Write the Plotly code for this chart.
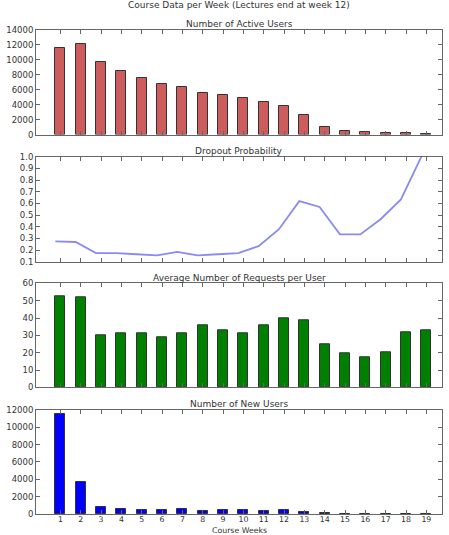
import plotly.graph_objects as go

weeks = list(range(1, 20))
week_labels = [str(w) for w in weeks]

active_users = [11550, 12100, 9650, 8550, 7550, 6800, 6400, 5600, 5250, 4850,
                4350, 3850, 2650, 1050, 450, 350, 230, 180, 90]
dropout_prob = [0.275, 0.27, 0.175, 0.175, 0.165, 0.155, 0.185, 0.155, 0.165, 0.175,
                0.235, 0.38, 0.62, 0.57, 0.335, 0.335, 0.465, 0.635, 1.0]
avg_requests = [52.3, 51.7, 30.0, 31.5, 31.5, 28.7, 31.0, 35.8, 32.7, 31.2,
                35.8, 40.0, 38.8, 24.6, 19.8, 17.3, 20.0, 31.9, 32.7]
new_users = [11580, 3710, 810, 580, 460, 420, 540, 310, 420, 420,
             390, 420, 270, 100, 40, 30, 30, 30, 30]

titles = ["Number of Active Users", "Dropout Probability",
          "Average Number of Requests per User", "Number of New Users"]
main_title = "Course Data per Week (Lectures end at week 12)"
x_title = "Course Weeks"

FONT = "DejaVu Sans"
TXT = "#333333"
FRAME = "#666666"

fig = go.Figure()

fig.add_trace(go.Bar(x=weeks, y=active_users, width=0.5, marker=dict(color="#cd5c5c", line=dict(color="#333", width=1)),
                     xaxis="x", yaxis="y", showlegend=False))
line_x = [w - 0.25 for w in weeks]
fig.add_trace(go.Scatter(x=line_x, y=dropout_prob, mode="lines", line=dict(color="#8a8af2", width=1.8),
                         xaxis="x2", yaxis="y2", showlegend=False))
fig.add_trace(go.Bar(x=weeks, y=avg_requests, width=0.5, marker=dict(color="#008000", line=dict(color="#333", width=1)),
                     xaxis="x3", yaxis="y3", showlegend=False))
fig.add_trace(go.Bar(x=weeks, y=new_users, width=0.5, marker=dict(color="#0000ff", line=dict(color="#333", width=1)),
                     xaxis="x4", yaxis="y4", showlegend=False))

domains = [[0.784, 1.0], [0.521, 0.738], [0.2614, 0.4767], [0.0, 0.2149]]
yranges = [[0, 14000], [0.1, 1.0], [0, 60], [0, 12000]]
dticks = [2000, 0.1, 10, 2000]
tick0s = [0, 0.1, 0, 0]
fmts = ["d", ".1f", "d", "d"]

common_axis = dict(showline=True, linecolor=FRAME, linewidth=1, mirror="ticks",
                   ticks="inside", ticklen=4, tickcolor=FRAME, showgrid=False, zeroline=False,
                   tickfont=dict(family=FONT, size=8.5, color=TXT))

layout = dict(width=449, height=535, margin=dict(l=27, r=6, t=30, b=21),
              plot_bgcolor="white", paper_bgcolor="white", bargap=0, font=dict(family=FONT, color=TXT))

for i in range(4):
    sx = "" if i == 0 else str(i + 1)
    xa = dict(common_axis)
    xa.update(domain=[0, 1], anchor="y" + sx, range=[-0.2, 19.77], tickmode="array",
              tickvals=weeks, ticktext=week_labels, showticklabels=(i == 3),
              ticklabelstandoff=-2,
              tickfont=dict(family=FONT, size=7.8, color=TXT))
    ya = dict(common_axis)
    ya.update(domain=domains[i], anchor="x" + sx, range=yranges[i], tickmode="linear",
              tick0=tick0s[i], dtick=dticks[i], tickformat=fmts[i])
    layout["xaxis" + sx] = xa
    layout["yaxis" + sx] = ya

title_y = [1.012, 0.75, 0.488, 0.227]
ann = [dict(text=main_title, x=0.5, y=1.0523, xref="paper", yref="paper", showarrow=False,
            xanchor="center", yanchor="middle", font=dict(family=FONT, size=9, color=TXT))]
for t, ty in zip(titles, title_y):
    ann.append(dict(text=t, x=0.5, y=ty, xref="paper", yref="paper", showarrow=False,
                    xanchor="center", yanchor="middle", font=dict(family=FONT, size=9, color=TXT)))
ann.append(dict(text=x_title, x=0.5, y=-0.0345, xref="paper", yref="paper", showarrow=False,
                xanchor="center", yanchor="middle", font=dict(family=FONT, size=7.8, color=TXT)))
layout["annotations"] = ann

fig.update_layout(**layout)
fig.write_html("out.html")
